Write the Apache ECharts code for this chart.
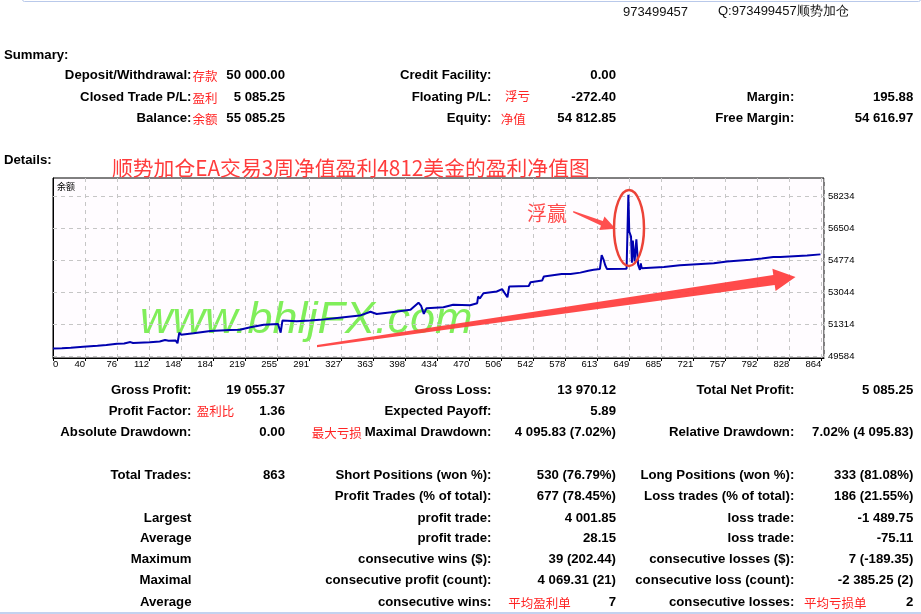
<!DOCTYPE html>
<html><head><meta charset="utf-8">
<script src="https://cdn.jsdelivr.net/npm/echarts@6/dist/echarts.min.js"></script>
<style>
html,body{margin:0;padding:0;background:#fff;width:921px;height:614px;overflow:hidden;}
#chart{position:absolute;left:0;top:0;width:921px;height:614px;}
#txt{position:absolute;left:0;top:0;width:921px;height:614px;pointer-events:none;}
.t{position:absolute;white-space:nowrap;font:bold 13.2px "Liberation Sans",Arial,sans-serif;color:#000;line-height:16px;transform:translateY(-50%);}
.r{transform:translate(-100%,-50%);}
.cn{font:12.5px "Noto Sans CJK SC",sans-serif;color:#ff2424;}
.hd{font:13px "Liberation Sans",Arial,sans-serif;color:#111;}
.ttl{font:20.8px "Noto Sans CJK SC",sans-serif;color:#ff3c3c;line-height:26px;}
.fy{font:20px "Noto Sans CJK SC",sans-serif;color:#ff4b4b;line-height:24px;}
.sm{font:9px "Noto Sans CJK SC",sans-serif;color:#000;line-height:12px;}
#topline{position:absolute;left:22px;top:-3px;width:897px;height:3px;border:1px solid #b9c9ea;border-radius:3px;}
#botline{position:absolute;left:0;top:612px;width:921px;height:2px;background:#c3d2ef;}
</style></head>
<body>
<div id="chart"></div>
<div id="txt"><div id="topline"></div><div id="botline"></div></div>
<script>
// ---- chart data (trade number vs. balance/equity) ----
const tradeIdx = [0,10,20,34,50,60,72,80,87,90,109,120,126,130,138,140,142,144,158,177,199,210,222,237,253,256,258,274,289,300,327,345,357,364,383,402,411,414,417,420,439,450,469,477,478,480,484,499,505,511,513,535,537,550,552,572,574,582,593,602,608,615,617,619,621,623,645,646,647,648,650,651,652,654,656,658,660,661,662,687,705,743,758,784,797,810,812,818,848,863];
const balance  = [50000,50020,50050,50100,50150,50190,50260,50280,50350,50300,50340,50380,50460,50420,50430,50290,50860,50750,50830,50950,51000,51020,51150,51290,51330,50860,51510,51480,51510,51550,51690,51780,51990,51870,51980,52090,52480,52300,51870,52180,52230,52370,52340,52450,52810,52700,52990,53080,53210,52770,53350,53380,53580,53670,53890,54030,54100,54030,54100,54200,54250,54300,55040,54820,54500,54290,54310,54330,58300,56320,56050,54640,55830,54700,55900,54520,54250,54600,54340,54400,54500,54610,54700,54790,54860,54940,55040,54940,55020,55085];
const xTickLabels = ['0','40','76','112','148','184','219','255','291','327','363','398','434','470','506','542','578','613','649','685','721','757','792','828','864'];
const yTickValues = [49584,51314,53044,54774,56504,58234];
const seriesName = '余额';

// ---- report text ----
const headerTexts = ['973499457','Q:973499457顺势加仓'];
const summaryLabels = [['Deposit/Withdrawal:','Credit Facility:',''],['Closed Trade P/L:','Floating P/L:','Margin:'],['Balance:','Equity:','Free Margin:']];
const summaryValues = [['50 000.00','0.00',''],['5 085.25','-272.40','195.88'],['55 085.25','54 812.85','54 616.97']];
const detailLabels = [
 ['Gross Profit:','Gross Loss:','Total Net Profit:'],
 ['Profit Factor:','Expected Payoff:',''],
 ['Absolute Drawdown:','Maximal Drawdown:','Relative Drawdown:'],
 ['Total Trades:','Short Positions (won %):','Long Positions (won %):'],
 ['','Profit Trades (% of total):','Loss trades (% of total):'],
 ['Largest','profit trade:','loss trade:'],
 ['Average','profit trade:','loss trade:'],
 ['Maximum','consecutive wins ($):','consecutive losses ($):'],
 ['Maximal','consecutive profit (count):','consecutive loss (count):'],
 ['Average','consecutive wins:','consecutive losses:']];
const detailValues = [
 ['19 055.37','13 970.12','5 085.25'],
 ['1.36','5.89',''],
 ['0.00','4 095.83 (7.02%)','7.02% (4 095.83)'],
 ['863','530 (76.79%)','333 (81.08%)'],
 ['','677 (78.45%)','186 (21.55%)'],
 ['','4 001.85','-1 489.75'],
 ['','28.15','-75.11'],
 ['','39 (202.44)','7 (-189.35)'],
 ['','4 069.31 (21)','-2 385.25 (2)'],
 ['','7','2']];
const titleText = '顺势加仓EA交易3周净值盈利4812美金的盈利净值图';
const noteText = '浮赢';
const watermark = 'www.bhljFX.com';

// ---- layout ----
const host = document.getElementById('txt');
function put(text, x, y, cls, right){
  if(!text) return;
  const d = document.createElement('div');
  d.className = 't ' + (cls||'') + (right?' r':'');
  d.textContent = text;
  d.style.left = x + 'px'; d.style.top = y + 'px';
  host.appendChild(d);
}
put(headerTexts[0], 623, 11, 'hd');
put(headerTexts[1], 718, 11, 'hd');
put('Summary:', 4, 54.5, '');
put('Details:', 4, 160, '');
const labX = [191.5, 491.5, 794.3], valX = [285, 616, 913.3];
const sumY = [75, 96.5, 117.5];
summaryLabels.forEach((row,i)=>row.forEach((s,j)=>{ put(s, labX[j], sumY[i], '', true); put(summaryValues[i][j], valX[j], sumY[i], '', true); }));
const detY = [390, 411, 432.3, 475, 496.3, 517.7, 538.3, 559.3, 580.3, 601.7];
detailLabels.forEach((row,i)=>row.forEach((s,j)=>{ put(s, labX[j], detY[i], '', true); put(detailValues[i][j], valX[j], detY[i], '', true); }));
// red notes
put('存款', 192.5, 75, 'cn'); put('盈利', 192.5, 96.5, 'cn'); put('余额', 192.5, 117.5, 'cn');
put('浮亏', 505, 94.5, 'cn'); put('净值', 500.7, 117.5, 'cn');
put('盈利比', 196.7, 410, 'cn'); put('最大亏损', 311.7, 432.3, 'cn');
put('平均盈利单', 508.3, 601.5, 'cn'); put('平均亏损单', 804, 601.5, 'cn');
put(titleText, 112, 167, 'ttl');
put(noteText, 527, 213, 'fy');
put(seriesName, 57, 187, 'sm');

const chart = echarts.init(document.getElementById('chart'), null, {renderer:'canvas'});
const gridStyle = {color:'#c6c6c6', width:1, type:[4,4]};
chart.setOption({
  animation:false,
  backgroundColor:'transparent',
  grid:{left:53, top:178, right:97, bottom:256, show:true, backgroundColor:'#fffcff', borderColor:'#000', borderWidth:1, z:0},
  xAxis:{type:'value', min:0, max:867, interval:36,
    axisLine:{show:true, lineStyle:{color:'#000', width:1}},
    axisTick:{show:true, length:3, lineStyle:{color:'#000'}},
    axisLabel:{color:'#000', fontSize:9.5, fontFamily:'Liberation Sans', margin:1, align:'right', alignMinLabel:'left', showMaxLabel:false,
      formatter:v => (v % 36 === 0 && xTickLabels[v/36] !== undefined) ? xTickLabels[v/36] : ''},
    splitLine:{show:true, lineStyle:gridStyle}},
  yAxis:{type:'value', position:'right', min:49492, max:59207, scale:true,
    axisLine:{show:true, lineStyle:{color:'#000', width:1}},
    axisTick:{show:true, length:3, customValues:yTickValues, lineStyle:{color:'#000'}},
    axisLabel:{customValues:yTickValues, color:'#000', fontSize:9.5, fontFamily:'Liberation Sans', margin:4, formatter:v=>String(v)},
    splitLine:{show:false}},
  series:[
    {type:'line', name:'grid', data:[], silent:true, z:1,
     markLine:{silent:true, symbol:'none', label:{show:false}, lineStyle:gridStyle, animation:false,
       data:yTickValues.map(v=>({yAxis:v}))}},
    {type:'line', name:seriesName, data:tradeIdx.map((t,i)=>[t,balance[i]]), symbol:'none', showSymbol:false,
    lineStyle:{color:'#0000b0', width:2}, z:5}],
  graphic:[
    {type:'text', z:1, style:{text:watermark, x:140, y:320, font:'italic 45px "Liberation Sans", Arial', fill:'#80ee5a', verticalAlign:'middle'}},
    {type:'polygon', z:20, shape:{points:[[317,345],[773.3,275],[772.4,268.8],[795.5,277],[775.6,291],[774.7,285],[317,347.2]]}, style:{fill:'#ff3b3b', opacity:0.92}},
    {type:'polygon', z:20, shape:{points:[[573.3,211],[602.8,221],[604.5,216.6],[615.5,228.8],[599.3,229.9],[601,225.6],[573.1,212.4]]}, style:{fill:'#ff4040', opacity:0.92}},
    {type:'ellipse', z:20, shape:{cx:629, cy:228, rx:15, ry:38}, style:{fill:'none', stroke:'#ec4338', lineWidth:2.5}}
  ]
});
</script>
</body></html>
